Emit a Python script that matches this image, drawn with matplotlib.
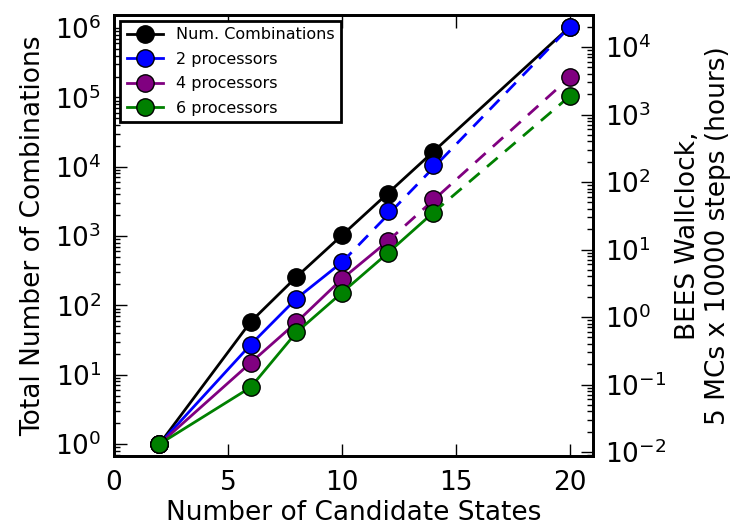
import matplotlib
matplotlib.use('Agg')
import matplotlib.pyplot as plt

# number of candidate states
states = [2, 6, 8, 10, 12, 14, 20]
combinations = [1, 58, 256, 1024, 4096, 16384, 1048576]

# BEES wallclock (hours), measured up to 14 states, extrapolated to 20
proc2 = [0.0131, 0.39, 1.87, 6.46, 37.2, 179, 20000]
proc4 = [0.0131, 0.21, 0.83, 3.66, 13.2, 55.5, 3560]
proc6 = [0.0131, 0.091, 0.59, 2.29, 8.79, 35.1, 1880]

# index where the dashed extrapolation starts for each series
last2, last4, last6 = 3, 4, 5

fig = plt.figure(figsize=(7.30, 5.29), dpi=100)
ax = fig.add_axes([0.156, 0.138, 0.656, 0.8345])
ax2 = ax.twinx()

mk = dict(marker='o', markersize=12.5, markeredgecolor='black', markeredgewidth=1, linewidth=2)

l0, = ax.plot(states, combinations, color='black', markerfacecolor='black', **mk)

handles = [l0]
for vals, last, col, name in [(proc2, last2, 'blue', '2 processors'),
                              (proc4, last4, 'purple', '4 processors'),
                              (proc6, last6, 'green', '6 processors')]:
    h, = ax2.plot(states[:last + 1], vals[:last + 1], color=col, markerfacecolor=col,
                  label=name, **mk)
    ax2.plot([states[last], states[-1]], [vals[last], vals[-1]], color=col,
             linestyle='--', dashes=(5, 3.5), linewidth=2)
    ax2.plot(states[last + 1:], vals[last + 1:], linestyle='none', color=col,
             markerfacecolor=col, marker='o', markersize=12.5,
             markeredgecolor='black', markeredgewidth=1)
    handles.append(h)

ax.set_yscale('log')
ax2.set_yscale('log')
ax.set_xlim(0, 21)
ax.set_ylim(0.671, 1.567e6)
ax2.set_ylim(0.00873, 30260)
ax.set_xticks([0, 5, 10, 15, 20])

ax.set_xlabel('Number of Candidate States', fontsize=19, labelpad=3)
ax.set_ylabel('Total Number of Combinations', fontsize=19, labelpad=6)
ax2.set_ylabel('BEES Wallclock,\n5 MCs x 10000 steps (hours)', fontsize=19, labelpad=6)

ax.tick_params(axis='x', which='both', direction='in', top=True, labelsize=19, length=9, width=1, pad=10)
ax.tick_params(axis='y', which='major', direction='in', labelsize=19, length=9, width=1, pad=9)
ax.tick_params(axis='y', which='minor', direction='in', length=4.5, width=1)
ax2.tick_params(axis='y', which='major', direction='in', labelsize=19, length=9, width=1, pad=9)
ax2.tick_params(axis='y', which='minor', direction='in', length=4.5, width=1)

for a in (ax, ax2):
    for s in a.spines.values():
        s.set_linewidth(2)

leg = ax2.legend(handles, ['Num. Combinations', '2 processors', '4 processors', '6 processors'],
                 loc='upper left', fontsize=11.5, fancybox=False, framealpha=1,
                 edgecolor='black', handlelength=2.3, borderaxespad=0.4,
                 labelspacing=0.6, borderpad=0.4)
leg.get_frame().set_linewidth(2)

fig.savefig('out.png', dpi=100)
